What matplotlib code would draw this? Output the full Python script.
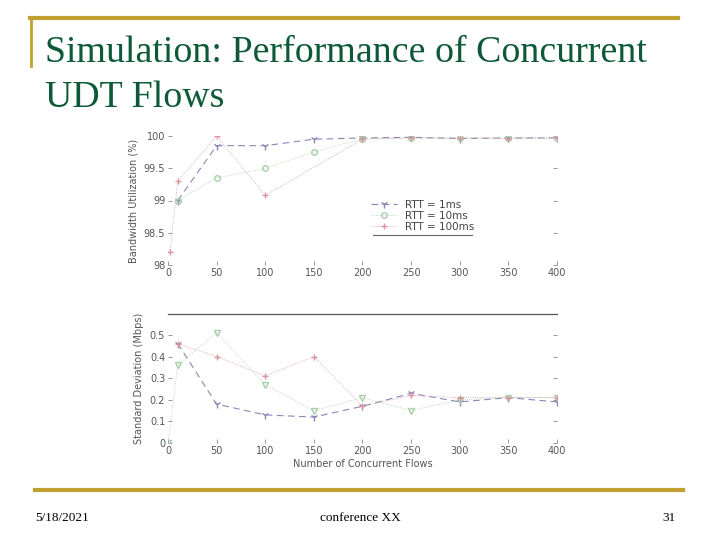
import numpy as np
import matplotlib
matplotlib.use("Agg")
import matplotlib.pyplot as plt
from matplotlib.lines import Line2D

# ---- data ----
flows = [10, 50, 100, 150, 200, 250, 300, 350, 400]

# bandwidth utilization (%)
bw_1ms = [99.0, 99.85, 99.85, 99.95, 99.97, 99.98, 99.96, 99.97, 99.97]
bw_10ms_x = [10, 50, 100, 150, 200, 250, 300, 350, 400]
bw_10ms = [99.0, 99.35, 99.5, 99.75, 99.96, 99.97, 99.97, 99.97, 99.97]
bw_100ms_x = [2, 10, 50, 100, 200, 250, 300, 350, 400]
bw_100ms = [98.2, 99.3, 100.0, 99.08, 99.95, 99.97, 99.97, 99.96, 99.97]

# standard deviation (Mbps)
sd_1ms = [0.46, 0.18, 0.13, 0.12, 0.17, 0.23, 0.19, 0.21, 0.19]
sd_10ms_x = [0, 10, 50, 100, 150, 200, 250, 300, 350, 400]
sd_10ms = [0.0, 0.36, 0.51, 0.27, 0.15, 0.21, 0.15, 0.20, 0.21, 0.21]
sd_100ms = [0.46, 0.40, 0.31, 0.40, 0.17, 0.22, 0.21, 0.21, 0.21]

labels = ["RTT = 1ms", "RTT = 10ms", "RTT = 100ms"]
xticks = [0, 50, 100, 150, 200, 250, 300, 350, 400]

c1 = "#8a86b8"
c2 = "#a8cfa8"
c3 = "#dd94a0"
gold = "#c0a030"
green = "#0e5a38"
grey = "#555555"

fig = plt.figure(figsize=(7.2, 5.4), dpi=100)
fig.patch.set_facecolor("white")

# =====================================================
# slide decoration
# =====================================================
fig.add_artist(Line2D([30/720, 678/720], [1-18/540, 1-18/540], color=gold, lw=3))
fig.add_artist(Line2D([31/720, 31/720], [1-18/540, 1-66/540], color=gold, lw=2))
fig.add_artist(Line2D([35/720, 683/720], [1-490/540, 1-490/540], color=gold, lw=3))

fig.text(45/720, 1-62/540, "Simulation: Performance of Concurrent",
         family="Liberation Serif", fontsize=27.3, color=green, va="baseline")
fig.text(45/720, 1-107/540, "UDT Flows",
         family="Liberation Serif", fontsize=27.3, color=green, va="baseline")

fig.text(35/720, 1-521/540, "5/18/2021", family="Liberation Serif", fontsize=9.5, va="baseline")
fig.text(360/720, 1-521/540, "conference XX", family="Liberation Serif", fontsize=9.5,
         va="baseline", ha="center")
fig.text(676/720, 1-521/540, "31", family="Liberation Serif", fontsize=9.5,
         va="baseline", ha="right")


def style_axes(ax):
    for s in ax.spines.values():
        s.set_visible(False)
    ax.set_xlim(0, 400)
    ax.set_xticks(xticks)
    ax.tick_params(axis="both", direction="in", length=3, width=0.6, colors="#888888",
                   labelcolor=grey, labelsize=7, right=True, pad=2)


# =====================================================
# top: bandwidth utilization
# =====================================================
ax1 = fig.add_axes([168/720, 1-265/540, 389/720, 129/540])
ax1.plot(flows, bw_1ms, color=c1, lw=0.8, ls=(0, (6, 4)), marker="1", ms=6, label=labels[0])
ax1.plot(bw_10ms_x, bw_10ms, color=c2, lw=0.6, ls=":", marker="o", ms=4,
         mfc="none", label=labels[1])
ax1.plot(bw_100ms_x, bw_100ms, color=c3, lw=0.6, ls=":", marker="+", ms=5, label=labels[2])
style_axes(ax1)
ax1.set_ylim(98, 100)
ax1.set_yticks([98, 98.5, 99, 99.5, 100])
ax1.set_yticklabels(["98", "98.5", "99", "99.5", "100"])
ax1.set_ylabel("Bandwidth Utilization (%)", fontsize=7, color=grey, labelpad=4)
leg = ax1.legend(loc="center", bbox_to_anchor=(0.655, 0.38), frameon=False, fontsize=7.5,
                 handlelength=2.5, labelspacing=0.1, borderpad=0.2)
for t in leg.get_texts():
    t.set_color("#444444")
ax1.plot([211, 313], [98.47, 98.47], color="#666666", lw=0.8, clip_on=False)

# =====================================================
# bottom: standard deviation
# =====================================================
ax2 = fig.add_axes([168/720, 1-443/540, 389/720, 129/540])
ax2.plot(flows, sd_1ms, color=c1, lw=0.8, ls=(0, (6, 4)), marker="1", ms=6)
ax2.plot(sd_10ms_x, sd_10ms, color=c2, lw=0.6, ls=":", marker="v", ms=4, mfc="none")
ax2.plot(flows, sd_100ms, color=c3, lw=0.6, ls=":", marker="+", ms=5)
style_axes(ax2)
ax2.spines["top"].set_visible(True)
ax2.spines["top"].set_color("#555555")
ax2.spines["top"].set_linewidth(0.9)
ax2.set_ylim(0, 0.597)
ax2.set_yticks([0, 0.1, 0.2, 0.3, 0.4, 0.5])
ax2.set_yticklabels(["0", "0.1", "0.2", "0.3", "0.4", "0.5"])
ax2.set_ylabel("Standard Deviation (Mbps)", fontsize=7, color=grey, labelpad=4)
ax2.set_xlabel("Number of Concurrent Flows", fontsize=7, color=grey, labelpad=2)

fig.savefig("out.png", dpi=100)
